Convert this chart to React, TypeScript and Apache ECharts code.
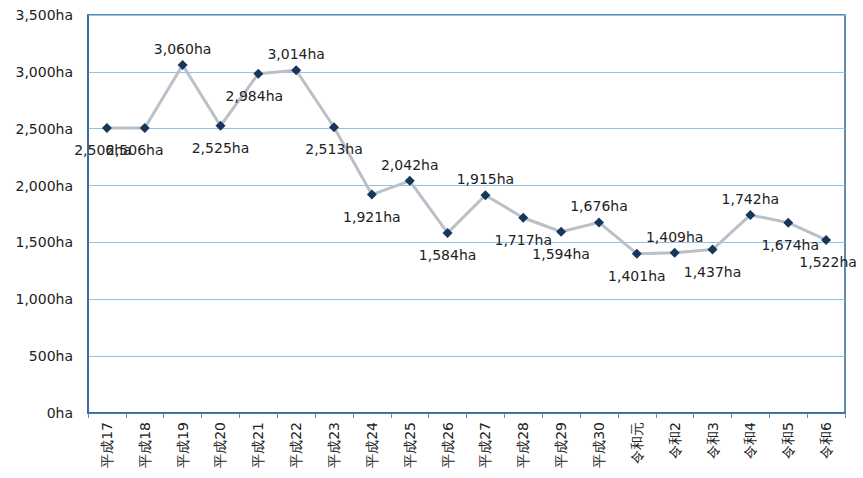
import React, { useEffect, useRef } from "react";
import * as echarts from "echarts";

const categories = ["平成17","平成18","平成19","平成20","平成21","平成22","平成23","平成24","平成25","平成26","平成27","平成28","平成29","平成30","令和元","令和2","令和3","令和4","令和5","令和6"];
const areaValues = [2506, 2506, 3060, 2525, 2984, 3014, 2513, 1921, 2042, 1584, 1915, 1717, 1594, 1676, 1401, 1409, 1437, 1742, 1674, 1522];
const labelSide = ["b","b","t","b","b","t","b","b","t","b","t","b","b","t","b","t","b","t","b","b"];
const labelShiftX = [-4, -10, 0, 0, -4, 0, 0, 0, 0, 0, 0, 0, 0, 0, 0, 0, 0, 0, 2, 2];
const yTicks = [0, 500, 1000, 1500, 2000, 2500, 3000, 3500];

const fmt = (v: number) => v.toLocaleString("en-US") + "ha";
const FONT = "DejaVu Sans";

export default function App() {
  const ref = useRef<HTMLDivElement>(null);
  useEffect(() => {
    if (!ref.current) return;
    const chart = echarts.init(ref.current, null, { renderer: "svg" });
    chart.setOption({
      animation: false,
      grid: { left: 88, right: 18, top: 15, bottom: 65, show: true, borderColor: "#2F6396", borderWidth: 1.5, containLabel: false },
      xAxis: {
        type: "category",
        data: categories,
        boundaryGap: true,
        axisLine: { lineStyle: { color: "#2F6396", width: 1.5 } },
        axisTick: { show: true, alignWithLabel: false, length: 5, lineStyle: { color: "#5B8DBE" } },
        axisLabel: { rotate: 90, color: "#222", fontSize: 14, fontFamily: FONT, margin: 9, interval: 0 },
        splitLine: { show: false },
      },
      yAxis: {
        type: "value",
        min: yTicks[0],
        max: yTicks[yTicks.length - 1],
        interval: 500,
        axisLine: { show: true, lineStyle: { color: "#2F6396", width: 1.5 } },
        axisTick: { show: false },
        axisLabel: { color: "#222", fontSize: 14, fontFamily: FONT, margin: 15, formatter: (v: number) => fmt(v) },
        splitLine: { lineStyle: { color: "#8EC4EC", width: 1 } },
      },
      series: [
        {
          type: "line",
          data: areaValues.map((v, i) => ({
            value: v,
            label: {
              position: labelSide[i] === "t" ? "top" : "bottom",
              offset: [labelShiftX[i], labelSide[i] === "t" ? 1 : 5],
            },
          })),
          symbol: "diamond",
          symbolSize: 10,
          itemStyle: { color: "#16365C" },
          lineStyle: { color: "#BAC0C8", width: 3 },
          label: {
            show: true,
            color: "#222",
            fontSize: 14,
            fontFamily: FONT,
            formatter: (p: any) => fmt(p.value),
          },
        },
      ],
    });
    return () => chart.dispose();
  }, []);
  return <div ref={ref} style={{ position: "fixed", left: 0, top: 0, width: 863, height: 478, background: "#fff" }} />;
}
